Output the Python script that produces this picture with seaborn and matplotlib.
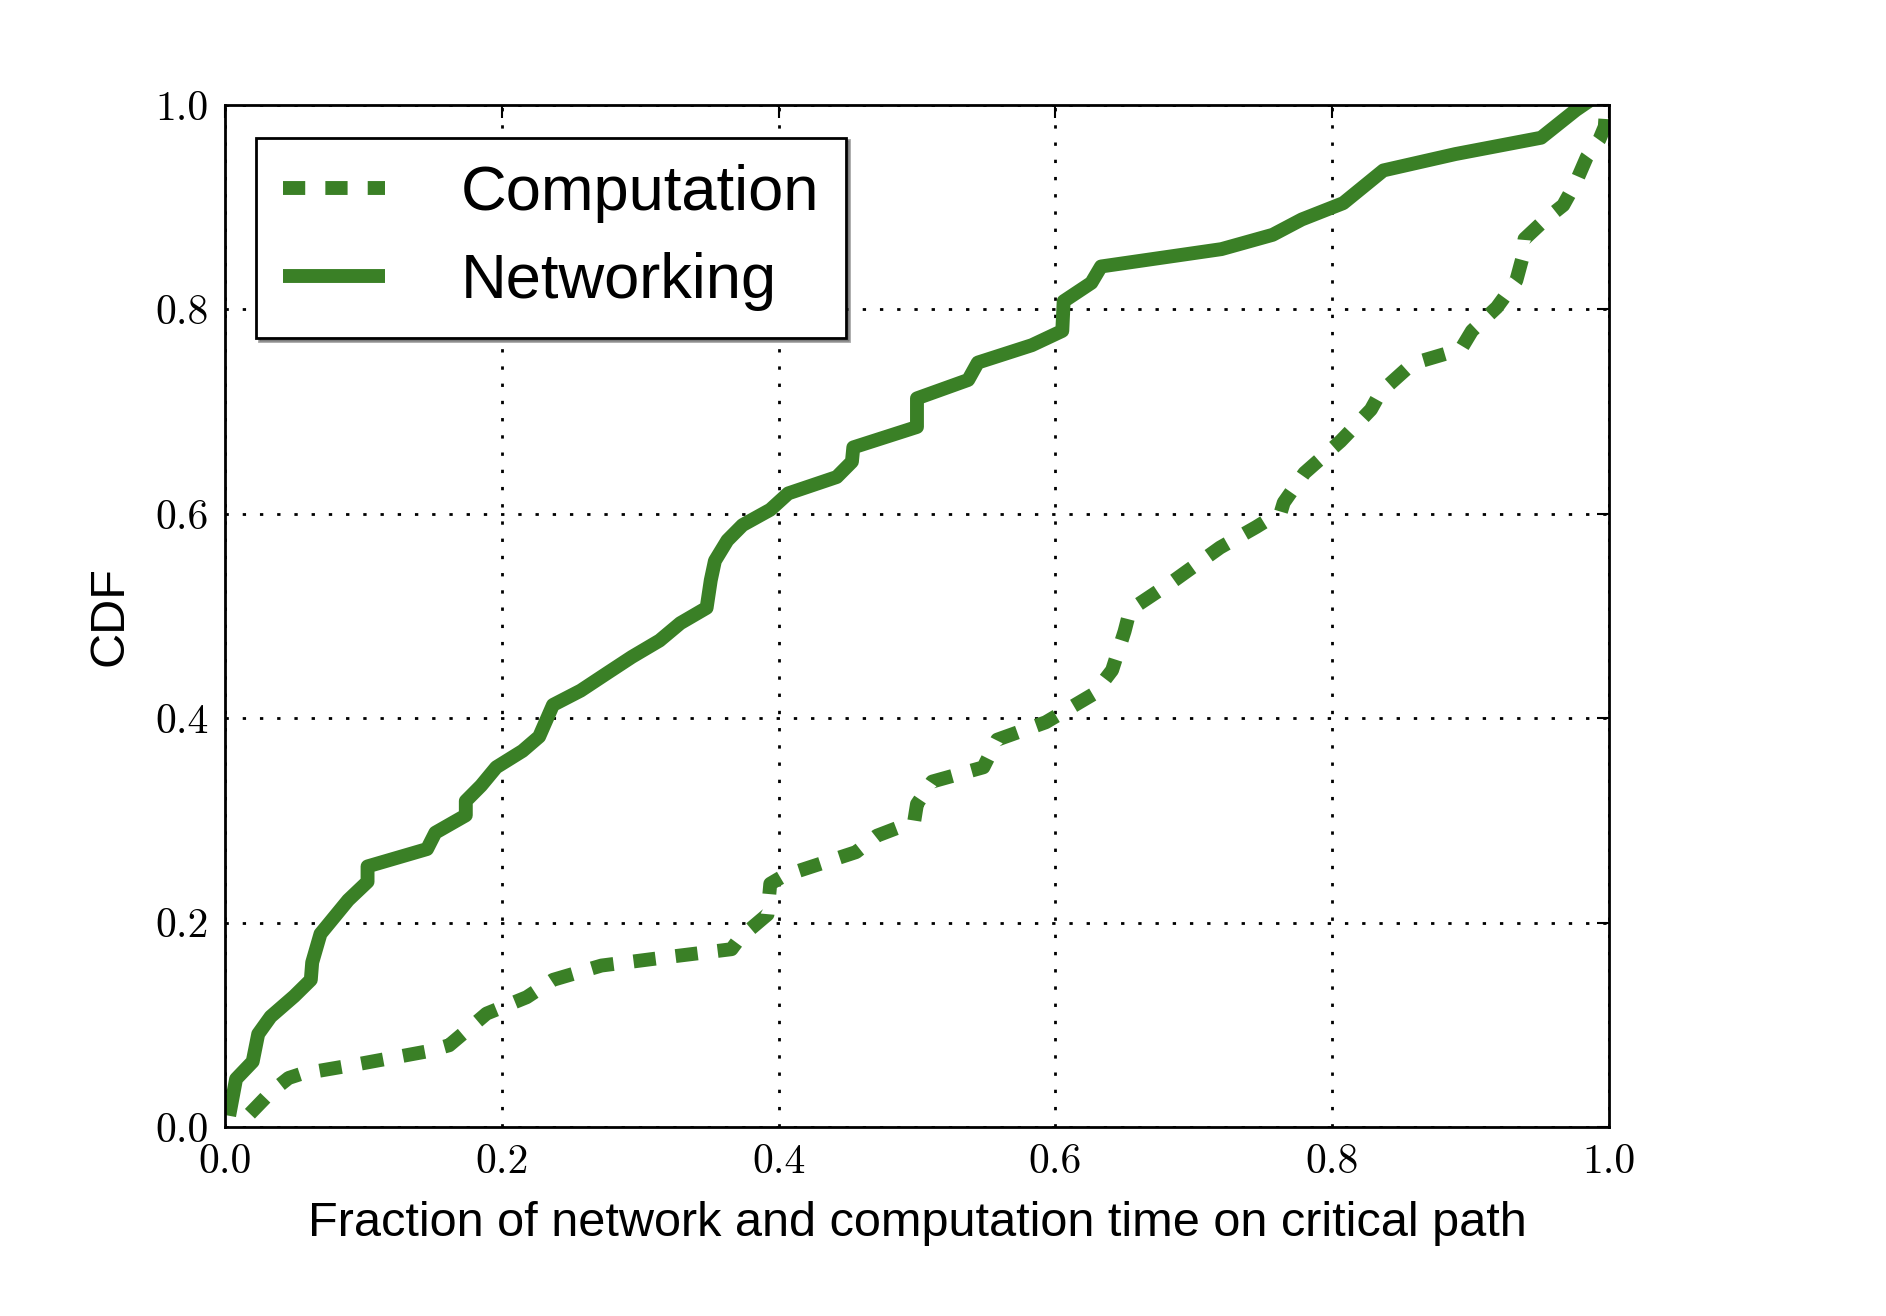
import numpy as np
import pandas as pd
import seaborn as sns
import matplotlib.pyplot as plt

net_x = [0.003, 0.008, 0.020, 0.024, 0.033, 0.050, 0.062, 0.063, 0.069, 0.089, 0.103, 0.103,
         0.146, 0.152, 0.174, 0.174, 0.185, 0.196, 0.215, 0.227, 0.237, 0.257, 0.276, 0.294,
         0.314, 0.329, 0.348, 0.351, 0.354, 0.363, 0.374, 0.394, 0.407, 0.442, 0.453, 0.454,
         0.500, 0.500, 0.537, 0.544, 0.583, 0.605, 0.606, 0.626, 0.633, 0.720, 0.757, 0.778,
         0.808, 0.837, 0.889, 0.951, 0.976, 0.990]
net_y = [0.011, 0.047, 0.064, 0.091, 0.108, 0.128, 0.144, 0.161, 0.189, 0.222, 0.240, 0.255,
         0.272, 0.288, 0.305, 0.319, 0.334, 0.352, 0.368, 0.382, 0.413, 0.427, 0.444, 0.460,
         0.476, 0.493, 0.508, 0.535, 0.554, 0.574, 0.589, 0.604, 0.620, 0.636, 0.651, 0.665,
         0.685, 0.713, 0.731, 0.748, 0.765, 0.779, 0.808, 0.826, 0.842, 0.859, 0.873, 0.888,
         0.904, 0.936, 0.952, 0.968, 0.995, 1.008]

comp_x = [0.018, 0.033, 0.046, 0.055, 0.098, 0.146, 0.162, 0.176, 0.189, 0.218, 0.237, 0.272,
          0.324, 0.366, 0.372, 0.392, 0.394, 0.404, 0.456, 0.471, 0.498, 0.500, 0.511, 0.548,
          0.558, 0.593, 0.628, 0.641, 0.650, 0.654, 0.685, 0.719, 0.745, 0.763, 0.765, 0.780,
          0.806, 0.828, 0.835, 0.858, 0.893, 0.901, 0.919, 0.933, 0.938, 0.939, 0.954, 0.967,
          0.976, 0.984, 0.993, 0.997, 0.998, 0.999]
comp_y = [0.013, 0.034, 0.048, 0.052, 0.062, 0.074, 0.080, 0.096, 0.111, 0.127, 0.144, 0.158,
          0.167, 0.174, 0.185, 0.208, 0.238, 0.246, 0.269, 0.285, 0.299, 0.316, 0.338, 0.352,
          0.379, 0.396, 0.424, 0.447, 0.485, 0.506, 0.534, 0.567, 0.587, 0.602, 0.611, 0.640,
          0.671, 0.702, 0.719, 0.747, 0.761, 0.779, 0.802, 0.828, 0.853, 0.869, 0.888, 0.902,
          0.924, 0.949, 0.966, 0.979, 0.999, 1.01]

ticks = [0.0, 0.2, 0.4, 0.6, 0.8, 1.0]
tick_labels = ['0.0', '0.2', '0.4', '0.6', '0.8', '1.0']

green = '#3a8026'

sns.set_style('white')
plt.rcParams['font.family'] = ['Liberation Sans', 'DejaVu Sans']
plt.rcParams['text.color'] = 'black'
plt.rcParams['axes.labelcolor'] = 'black'

fig = plt.figure(figsize=(18.86, 13.16), dpi=100)
ax = fig.add_axes([0.1193, 0.1436, 0.7338, 0.7766])

sns.lineplot(x=comp_x, y=comp_y, ax=ax, color=green, lw=10, sort=False, estimator=None,
             linestyle=(0, (1.6, 1.45)), label='Computation')
sns.lineplot(x=net_x, y=net_y, ax=ax, color=green, lw=10, sort=False, estimator=None,
             label='Networking')
for ln in ax.get_lines():
    ln.set_solid_capstyle('butt')
    ln.set_dash_capstyle('butt')

ax.set_xlim(0, 1)
ax.set_ylim(0, 1)
ax.set_xticks(ticks)
ax.set_yticks(ticks)
ax.set_xticklabels(tick_labels, fontfamily='cmr10', fontsize=30)
ax.set_yticklabels(tick_labels, fontfamily='cmr10', fontsize=30)
ax.tick_params(direction='in', length=9, width=1.5, pad=12, top=True, right=True,
               colors='black')
for s in ax.spines.values():
    s.set_visible(True)
    s.set_linewidth(2)
    s.set_color('black')

ax.grid(True, color='black', linestyle=(0, (1.2, 5)), linewidth=2)

ax.set_xlabel('Fraction of network and computation time on critical path', fontsize=35,
              labelpad=14)
ax.set_ylabel('CDF', fontsize=35, labelpad=16)

leg = ax.legend(loc='upper left', bbox_to_anchor=(0.0224, 0.968), borderaxespad=0,
                fontsize=45.5, handlelength=1.62, handletextpad=1.2, borderpad=0.42,
                labelspacing=0.46, fancybox=False, shadow=True, framealpha=1,
                edgecolor='black')
leg.get_frame().set_linewidth(2)
for t in leg.get_texts():
    t.set_color('black')

fig.savefig('out.png', dpi=100, facecolor='white')
